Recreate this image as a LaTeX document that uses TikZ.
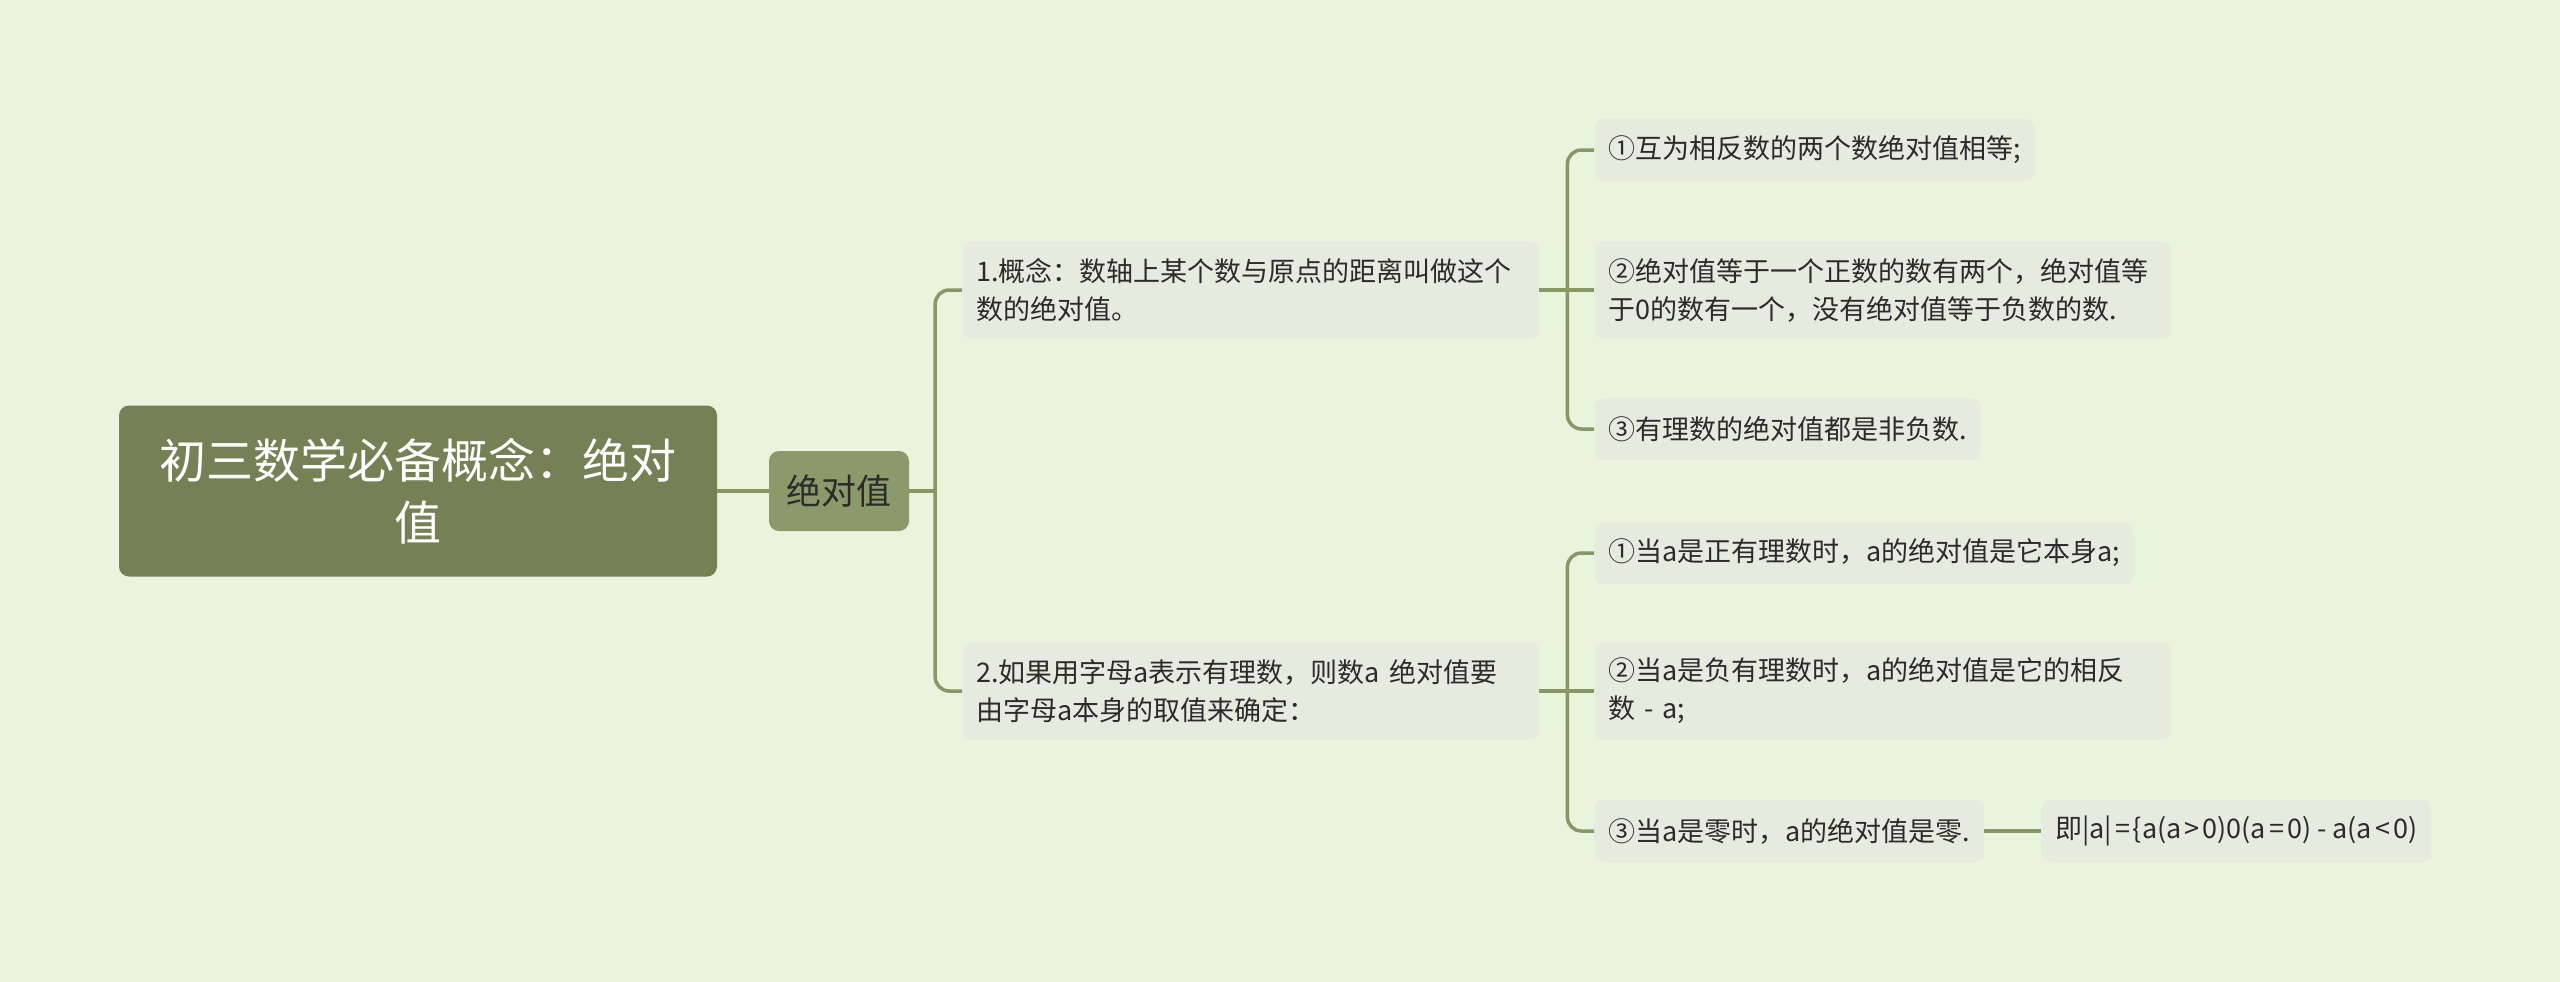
\documentclass[tikz,border=0pt]{standalone}
\usepackage{fontspec}
\newfontfamily\cjk{Noto Sans CJK SC}
\usetikzlibrary{positioning}
\definecolor{bg}{HTML}{E8F5DC}
\definecolor{rootgreen}{HTML}{738154}
\definecolor{maingreen}{HTML}{8A9A6A}
\definecolor{leafgray}{HTML}{E6EADF}
\definecolor{linegreen}{HTML}{879766}
\definecolor{ink}{HTML}{2B2B2B}
\newcommand{\sk}{\kern3pt}

\begin{document}
\begin{tikzpicture}[x=1pt,y=-1pt,
  rootbox/.style={fill=rootgreen, rounded corners=10pt, text=white, align=center,
    font=\cjk\fontsize{47}{62}\selectfont, minimum width=598pt, minimum height=171pt, inner sep=0pt},
  mainbox/.style={fill=maingreen, rounded corners=10pt, text=ink,
    font=\cjk\fontsize{35}{42}\selectfont, minimum width=140pt, minimum height=80pt, inner sep=0pt},
  leafbox/.style={fill=leafgray, rounded corners=9pt, text=ink, anchor=west, align=left,
    font=\cjk\fontsize{27}{38}\selectfont, inner xsep=14pt, inner ysep=0pt, minimum height=62pt},
  widebox/.style={leafbox, text width=549pt, minimum height=97pt},
  link/.style={draw=linegreen, line width=3.5pt},
  elbow/.style={link, rounded corners=14pt}]
  % background and page size
  \fill[bg] (0,0) rectangle (2560,982);
  % root and main topic
  \node[rootbox] (root) at (418,491) {初三数学必备概念：绝对\\值};
  \node[mainbox] (main) at (839,491) {绝对值};
  % two branches
  \node[widebox] (b1) at (962,290) {1.概念：数轴上某个数与原点的距离叫做这个\\数的绝对值。};
  \node[widebox] (b2) at (962,691) {2.如果用字母a表示有理数，则数a 绝对值要\\由字母a本身的取值来确定：};
  % leaves of branch 1
  \node[leafbox] (l1) at (1594,150) {①互为相反数的两个数绝对值相等;};
  \node[widebox] (l2) at (1594,290) {②绝对值等于一个正数的数有两个，绝对值等\\于0的数有一个，没有绝对值等于负数的数.};
  \node[leafbox] (l3) at (1594,429) {③有理数的绝对值都是非负数.};
  % leaves of branch 2
  \node[leafbox] (l4) at (1594,553) {①当a是正有理数时，a的绝对值是它本身a;};
  \node[widebox] (l5) at (1594,691) {②当a是负有理数时，a的绝对值是它的相反\\数 - a;};
  \node[leafbox] (l6) at (1594,831) {③当a是零时，a的绝对值是零.};
  \node[leafbox] (l7) at (2041,831) {即|a|\sk=\sk\{a(a\sk>\sk0)0(a\sk=\sk0) - a(a\sk<\sk0)};
  % connectors
  \draw[link] (root.east) -- (main.west);
  \coordinate (t) at ([xshift=26pt]main.east);
  \draw[link] (main.east) -- (t);
  \draw[elbow] (t) |- (b1.west);
  \draw[elbow] (t) |- (b2.west);
  \coordinate (s1) at ([xshift=28pt]b1.east);
  \coordinate (s2) at ([xshift=28pt]b2.east);
  \draw[link] (b1.east) -- (s1) -- (l2.west);
  \draw[elbow] (s1) |- (l1.west);
  \draw[elbow] (s1) |- (l3.west);
  \draw[link] (b2.east) -- (s2) -- (l5.west);
  \draw[elbow] (s2) |- (l4.west);
  \draw[elbow] (s2) |- (l6.west);
  \draw[link] (l6.east) -- (l7.west);
\end{tikzpicture}
\end{document}
